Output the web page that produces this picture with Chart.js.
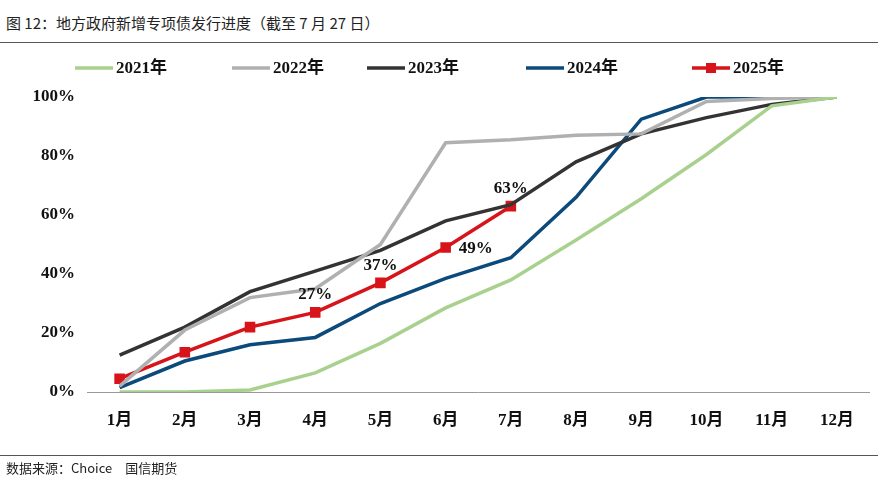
<!DOCTYPE html>
<html><head><meta charset="utf-8">
<script src="https://cdn.jsdelivr.net/npm/chart.js@4"></script>
<style>
body{margin:0;width:878px;height:480px;background:#fff;position:relative;overflow:hidden;font-family:"Noto Sans CJK SC";}
#title{position:absolute;left:6px;top:12px;font-size:15px;color:#222;}
#topline{position:absolute;left:0;top:42px;width:878px;height:1px;background:#555;}
#botline{position:absolute;left:0;top:455px;width:878px;height:1px;background:#555;}
#foot{position:absolute;left:6px;top:458px;font-size:13px;color:#222;}
#wrap{position:absolute;left:0;top:0;width:878px;height:480px;}
</style></head><body>
<div id="title">图 12：地方政府新增专项债发行进度（截至 7 月 27 日）</div>
<div id="topline"></div>
<div id="wrap"><canvas id="c"></canvas></div>
<div id="botline"></div>
<div id="foot">数据来源：Choice　国信期货</div>
<script>
const months = ['1月','2月','3月','4月','5月','6月','7月','8月','9月','10月','11月','12月'];
const y2021 = [0,0,0.7,6.5,16.5,28.5,38,51.5,65.5,80.5,97,100];
const y2022 = [2,21,32,35,50,84.5,85.5,87,87.5,98.5,99.5,100];
const y2023 = [12.5,22,34,41,48,58,63.5,78,87.5,93,97.5,100];
const y2024 = [1.5,10.5,16,18.5,30,38.5,45.5,66,92.5,100,100,100];
const y2025 = [4.5,13.5,22,27,37,49,63];
const labels2025 = {3:'27%',4:'37%',5:'49%',6:'63%'};

const series = [
  {label:'2021年', data:y2021, color:'#a9d18e'},
  {label:'2022年', data:y2022, color:'#b0b0b0'},
  {label:'2023年', data:y2023, color:'#333333'},
  {label:'2024年', data:y2024, color:'#0b4a7a'},
  {label:'2025年', data:y2025, color:'#d7141a', marker:true}
];
const legendX = [75,232,367,526,692];

const extras = {
  id:'extras',
  afterDraw(chart){
    const ctx = chart.ctx;
    ctx.save();
    series.forEach((s,i)=>{
      const x = legendX[i], y = 68;
      ctx.strokeStyle = s.color; ctx.lineWidth = 3.5;
      ctx.beginPath(); ctx.moveTo(x,y); ctx.lineTo(x+38,y); ctx.stroke();
      if(s.marker){ ctx.fillStyle = s.color; ctx.fillRect(x+14,y-5,10,10); }
      ctx.fillStyle = '#111'; ctx.font = 'bold 17px "Liberation Serif", "Noto Sans CJK SC"';
      ctx.textBaseline = 'middle'; ctx.fillText(s.label, x+41, y+1);
    });
    const meta = chart.getDatasetMeta(4);
    ctx.font = 'bold 17px "Liberation Serif"'; ctx.fillStyle = '#111';
    ctx.textAlign = 'center'; ctx.textBaseline = 'bottom';
    Object.keys(labels2025).forEach(k=>{
      const p = meta.data[k];
      let dx = 0, dy = -9;
      if(k==5){ dx = 30; dy = 10; }
      ctx.fillText(labels2025[k], p.x+dx, p.y+dy);
    });
    ctx.restore();
  }
};

new Chart(document.getElementById('c'), {
  type:'line',
  data:{labels:months, datasets:series.map(s=>({
    label:s.label, data:s.data, borderColor:s.color, backgroundColor:s.color,
    borderWidth:3.5, tension:0, pointRadius:s.marker?5:0, pointStyle:'rect',
    pointHoverRadius:0
  }))},
  options:{
    responsive:true, maintainAspectRatio:false, animation:false,
    layout:{padding:{left:0,top:97,right:8,bottom:38}},
    plugins:{legend:{display:false}, tooltip:{enabled:false}},
    scales:{
      x:{offset:true, grid:{display:false, drawTicks:false}, border:{color:'#999',width:1},
         ticks:{color:'#111', font:{family:'Liberation Serif, Noto Sans CJK SC', size:17, weight:'bold'}, padding:18},
         afterFit(s){ s.height = 50; }},
      y:{min:0, max:100, grid:{display:false, drawTicks:false}, border:{display:false},
         ticks:{stepSize:20, color:'#111', padding:12, callback:v=>v+'%',
                font:{family:'Liberation Serif', size:17, weight:'bold'}},
         afterFit(s){ s.width = 87; }}
    }
  },
  plugins:[extras]
});
</script></body></html>
